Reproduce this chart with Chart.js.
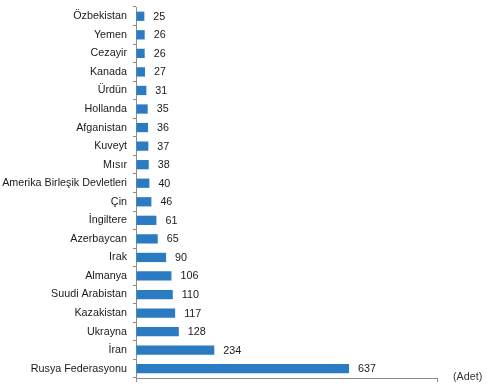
<!DOCTYPE html>
<html lang="tr">
<head>
<meta charset="utf-8">
<script src="https://cdn.jsdelivr.net/npm/chart.js@4"></script>
<style>
    html, body { margin: 0; padding: 0; background: #ffffff; }
    #wrap { width: 488px; height: 387px; position: relative; }
</style>
</head>
<body>
<div id="wrap"><canvas id="ulkeChart"></canvas></div>
<script>
// Ülkeler (yukarıdan aşağıya)
const ulkeler = [
    'Özbekistan', 'Yemen', 'Cezayir', 'Kanada', 'Ürdün', 'Hollanda', 'Afganistan',
    'Kuveyt', 'Mısır', 'Amerika Birleşik Devletleri', 'Çin', 'İngiltere', 'Azerbaycan',
    'Irak', 'Almanya', 'Suudi Arabistan', 'Kazakistan', 'Ukrayna', 'İran', 'Rusya Federasyonu'
];
const adetler = [25, 26, 26, 27, 31, 35, 36, 37, 38, 40, 46, 61, 65, 90, 106, 110, 117, 128, 234, 637];
const eksenMin = 0;
const eksenMax = 900;
const birimEtiketi = '(Adet)';

const FONT = "'Liberation Sans', Arial, sans-serif";

// Değer etiketleri + birim yazısı
const etiketPlugin = {
    id: 'etiketler',
    afterDatasetsDraw(chart) {
        const ctx = chart.ctx;
        const meta = chart.getDatasetMeta(0);
        ctx.save();
        ctx.font = '10.75px ' + FONT;
        ctx.fillStyle = '#1a1a1a';
        ctx.textAlign = 'left';
        ctx.textBaseline = 'middle';
        meta.data.forEach((bar, i) => {
            ctx.fillText(String(adetler[i]), bar.x + 9, bar.y + 0.5);
        });
        // (Adet)
        const area = chart.chartArea;
        ctx.fillStyle = '#333333';
        ctx.fillText(birimEtiketi, area.right + 16, area.bottom - 1);
        ctx.restore();
    }
};

const ctx = document.getElementById('ulkeChart').getContext('2d');
new Chart(ctx, {
    type: 'bar',
    data: {
        labels: ulkeler,
        datasets: [{
            data: adetler,
            backgroundColor: '#2a7bc2',
            borderWidth: 0,
            categoryPercentage: 1,
            barPercentage: 0.5
        }]
    },
    options: {
        indexAxis: 'y',
        responsive: true,
        maintainAspectRatio: false,
        animation: false,
        layout: { padding: { top: 7, right: 51, left: 0, bottom: 0 } },
        plugins: {
            legend: { display: false },
            tooltip: { enabled: false }
        },
        scales: {
            x: {
                min: eksenMin,
                max: eksenMax,
                ticks: { display: false, stepSize: 900 },
                grid: {
                    drawOnChartArea: false,
                    drawTicks: true,
                    tickLength: 4,
                    color: '#8c8c8c'
                },
                border: { display: true, color: '#8c8c8c', width: 1 },
                afterFit(scale) {
                    scale.height = 9;
                    scale.paddingLeft = 0;
                    scale.paddingRight = 0;
                }
            },
            y: {
                ticks: {
                    color: '#1a1a1a',
                    font: { family: FONT, size: 10.75 },
                    padding: 6,
                    autoSkip: false
                },
                grid: {
                    offset: true,
                    drawOnChartArea: false,
                    drawTicks: true,
                    tickLength: 3,
                    color: '#8c8c8c'
                },
                border: { display: true, color: '#8c8c8c', width: 1 },
                afterFit(scale) {
                    scale.width = 136;
                    scale.paddingTop = 0;
                    scale.paddingBottom = 0;
                }
            }
        }
    },
    plugins: [etiketPlugin]
});
</script>
</body>
</html>
